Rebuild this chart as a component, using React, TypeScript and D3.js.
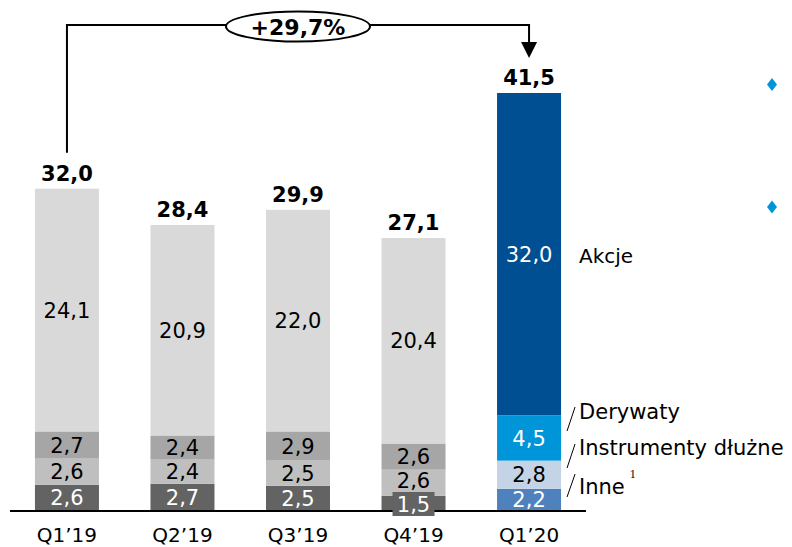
import { useEffect, useRef } from "react";
import * as d3 from "d3";

const categories = ["Q1’19", "Q2’19", "Q3’19", "Q4’19", "Q1’20"];
const inne = [2.6, 2.7, 2.5, 1.5, 2.2];
const instrumenty = [2.6, 2.4, 2.5, 2.6, 2.8];
const derywaty = [2.7, 2.4, 2.9, 2.6, 4.5];
const akcje = [24.1, 20.9, 22.0, 20.4, 32.0];
const totals = [32.0, 28.4, 29.9, 27.1, 41.5];
const seriesNames = ["Inne", "Instrumenty dłużne", "Derywaty", "Akcje"];
const growthLabel = "+29,7%";

const GREYS = ["#636363", "#bfbfbf", "#a6a6a6", "#d9d9d9"];
const BLUES = ["#4f81bd", "#c5d3e6", "#0095d9", "#004f92"];
const FONT = "'DejaVu Sans', Verdana, sans-serif";

const fmt = (v: number) => v.toFixed(1).replace(".", ",");

export default function App() {
  const ref = useRef<SVGSVGElement>(null);

  useEffect(() => {
    if (!ref.current) return;
    const width = 792;
    const height = 547;
    const svg = d3.select(ref.current);
    svg.selectAll("*").remove();
    svg.attr("width", width).attr("height", height);

    const x = d3
      .scaleBand()
      .domain(categories)
      .range([10, 586])
      .paddingInner(0.446)
      .paddingOuter(0.216);

    const y = d3.scaleLinear().domain([0, 41.5]).range([511, 93]);

    const rows = categories.map((c, i) => ({
      cat: c,
      inne: inne[i],
      instrumenty: instrumenty[i],
      derywaty: derywaty[i],
      akcje: akcje[i],
    }));
    const keys = ["inne", "instrumenty", "derywaty", "akcje"];
    const stack = d3.stack<any>().keys(keys)(rows);

    const last = categories.length - 1;
    const cx = (i: number) => (x(categories[i]) ?? 0) + x.bandwidth() / 2;

    stack.forEach((layer, li) => {
      const g = svg.append("g");
      layer.forEach((d, i) => {
        g.append("rect")
          .attr("x", x(categories[i]) ?? 0)
          .attr("width", x.bandwidth())
          .attr("y", y(d[1]))
          .attr("height", y(d[0]) - y(d[1]))
          .attr("fill", i === last ? BLUES[li] : GREYS[li]);
      });
    });

    // baseline
    svg
      .append("line")
      .attr("x1", 10)
      .attr("x2", 586)
      .attr("y1", y(0))
      .attr("y2", y(0))
      .attr("stroke", "#000")
      .attr("stroke-width", 2);

    // segment labels (small bottom one gets its own box later)
    const boxed: { x: number; y: number; v: number }[] = [];
    stack.forEach((layer, li) => {
      layer.forEach((d, i) => {
        const v = d[1] - d[0];
        const white = li === 0 || (i === last && (li === 2 || li === 3));
        if (li === 0 && v < 2) {
          boxed.push({ x: cx(i), y: y(d[0]) - 7, v });
          return;
        }
        // squeezed label above the small box sits a bit higher
        const shift = li === 1 && inne[i] < 2 ? -2 : 0;
        svg
          .append("text")
          .attr("x", cx(i))
          .attr("y", (y(d[0]) + y(d[1])) / 2 + shift)
          .attr("dy", "0.36em")
          .attr("text-anchor", "middle")
          .attr("font-family", FONT)
          .attr("font-size", 21)
          .attr("fill", white ? "#fff" : "#000")
          .text(fmt(v));
      });
    });
    boxed.forEach((b) => {
      svg
        .append("rect")
        .attr("x", b.x - 21)
        .attr("width", 42)
        .attr("y", b.y - 12)
        .attr("height", 24)
        .attr("fill", GREYS[0]);
      svg
        .append("text")
        .attr("x", b.x)
        .attr("y", b.y)
        .attr("dy", "0.36em")
        .attr("text-anchor", "middle")
        .attr("font-family", FONT)
        .attr("font-size", 21)
        .attr("fill", "#fff")
        .text(fmt(b.v));
    });

    // totals
    svg
      .append("g")
      .selectAll("text")
      .data(totals)
      .join("text")
      .attr("x", (_, i) => cx(i))
      .attr("y", (d) => y(d) - 8)
      .attr("text-anchor", "middle")
      .attr("font-family", FONT)
      .attr("font-weight", "bold")
      .attr("font-size", 21)
      .attr("fill", "#000")
      .text((d) => fmt(d));

    // category labels
    svg
      .append("g")
      .selectAll("text")
      .data(categories)
      .join("text")
      .attr("x", (_, i) => cx(i))
      .attr("y", 542)
      .attr("text-anchor", "middle")
      .attr("font-family", FONT)
      .attr("font-size", 20)
      .attr("fill", "#000")
      .text((d) => d);

    // growth bracket
    const xa = cx(0);
    const xb = cx(last);
    const top = 25;
    const tipY = y(totals[last]) - 35;
    svg
      .append("path")
      .attr("d", `M${xa},${y(totals[0]) - 36}V${top}H${xb}V${tipY - 14}`)
      .attr("fill", "none")
      .attr("stroke", "#000")
      .attr("stroke-width", 2);
    svg
      .append("path")
      .attr("d", `M${xb - 8},${tipY - 16}L${xb + 8},${tipY - 16}L${xb},${tipY}Z`)
      .attr("fill", "#000");
    const ex = 298;
    svg
      .append("ellipse")
      .attr("cx", ex)
      .attr("cy", 26.5)
      .attr("rx", 72)
      .attr("ry", 15)
      .attr("fill", "#fff")
      .attr("stroke", "#000")
      .attr("stroke-width", 2);
    svg
      .append("text")
      .attr("x", ex)
      .attr("y", 27)
      .attr("dy", "0.36em")
      .attr("text-anchor", "middle")
      .attr("font-family", FONT)
      .attr("font-weight", "bold")
      .attr("font-size", 22)
      .text(growthLabel);

    // series labels on the right of the last bar
    const lx = (x(categories[last]) ?? 0) + x.bandwidth() + 18;
    const akcjeSeg = stack[3][last];
    svg
      .append("text")
      .attr("x", lx)
      .attr("y", (y(akcjeSeg[0]) + y(akcjeSeg[1])) / 2 + 2)
      .attr("dy", "0.36em")
      .attr("font-family", FONT)
      .attr("font-size", 20)
      .text(seriesNames[3]);

    const smallLabels = [
      { name: seriesNames[2], ly: 411, s0: 431, s1: 407 },
      { name: seriesNames[1], ly: 447, s0: 468, s1: 444 },
      { name: seriesNames[0], ly: 486, s0: 497, s1: 474 },
    ];
    smallLabels.forEach((l) => {
      svg
        .append("line")
        .attr("x1", lx - 12)
        .attr("x2", lx - 4)
        .attr("y1", l.s0)
        .attr("y2", l.s1)
        .attr("stroke", "#000")
        .attr("stroke-width", 1);
      const t = svg
        .append("text")
        .attr("x", lx)
        .attr("y", l.ly)
        .attr("dy", "0.36em")
        .attr("font-family", FONT)
        .attr("font-size", 21)
        .attr("fill", "#000")
        .text(l.name);
      if (l.name === "Inne") {
        t.append("tspan")
          .attr("dx", 5)
          .attr("dy", -16)
          .attr("font-size", 12)
          .attr("fill", "#000")
          .attr("font-family", "'Liberation Serif', serif")
          .text("1");
      }
    });

    // diamonds
    [84.5, 207].forEach((dy) => {
      svg
        .append("path")
        .attr("d", `M772,${dy - 6.5}L777,${dy}L772,${dy + 6.5}L767,${dy}Z`)
        .attr("fill", "#0095d9");
    });
  }, []);

  return (
    <div style={{ position: "absolute", left: 0, top: 0 }}>
      <svg ref={ref} style={{ display: "block" }} />
    </div>
  );
}
